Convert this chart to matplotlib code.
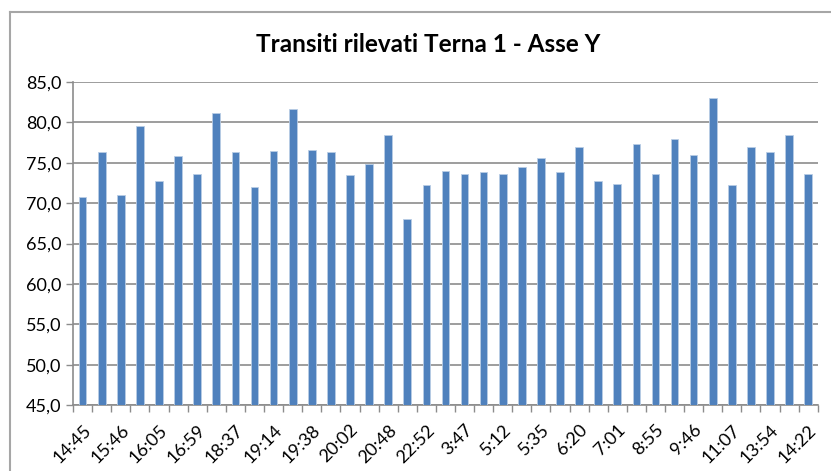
import matplotlib
matplotlib.use("Agg")
import matplotlib.pyplot as plt
from matplotlib.lines import Line2D
import numpy as np

# data
times = ["14:45", "", "15:46", "", "16:05", "", "16:59", "", "18:37", "",
         "19:14", "", "19:38", "", "20:02", "", "20:48", "", "22:52", "",
         "3:47", "", "5:12", "", "5:35", "", "6:20", "", "7:01", "",
         "8:55", "", "9:46", "", "11:07", "", "13:54", "", "14:22"]
transits = [70.8, 76.3, 71.0, 79.6, 72.7, 75.8, 73.6, 81.2, 76.3, 72.0,
            76.5, 81.7, 76.6, 76.3, 73.5, 74.9, 78.4, 68.0, 72.2, 74.0,
            73.6, 73.8, 73.6, 74.5, 75.6, 73.8, 77.0, 72.7, 72.4, 77.3,
            73.6, 77.9, 75.9, 83.0, 72.2, 77.0, 76.3, 78.4, 73.6]
y_ticks = [45, 50, 55, 60, 65, 70, 75, 80, 85]

plt.rcParams['font.family'] = ['Lato', 'DejaVu Sans']

fig = plt.figure(figsize=(8.31, 4.71), dpi=100)
ax = fig.add_axes([0.088, 0.140, 0.896, 0.686])

x = np.arange(len(transits))
ax.bar(x, transits, width=0.4, color="#4f81bd", edgecolor="#b9cde5",
       linewidth=0.6, zorder=3)

ax.set_ylim(45, 85)
ax.set_yticks(y_ticks)
ax.set_yticklabels([f"{v:.1f}".replace(".", ",") for v in y_ticks], fontsize=13)
ax.yaxis.grid(True, color="#8c8c8c", linewidth=1.2, zorder=0)
ax.tick_params(axis="y", length=5, color="#8c8c8c", width=1)

ax.set_xlim(-0.5, len(transits) - 0.5)
# tick marks between categories, labels under every other bar
ax.set_xticks(np.arange(len(transits) + 1) - 0.5)
ax.set_xticklabels([])
ax.set_xticks(x, minor=True)
ax.set_xticklabels(times, minor=True, rotation=45, ha="right",
                   rotation_mode="anchor", fontsize=13)
ax.tick_params(axis="x", which="major", length=5, color="#8c8c8c", width=1)
ax.tick_params(axis="x", which="minor", length=0, pad=12)

for s in ["top", "right"]:
    ax.spines[s].set_visible(False)
for s in ["left", "bottom"]:
    ax.spines[s].set_color("#8c8c8c")
    ax.spines[s].set_linewidth(1.2)

fig.text(0.515, 0.905, "Transiti rilevati Terna 1 - Asse Y", ha="center",
         va="center", fontsize=17.5, fontweight="bold")

# chart border
fig.add_artist(Line2D([0.012, 1.0], [0.975, 0.975], color="#a6a6a6", lw=1.5))
fig.add_artist(Line2D([0.012, 0.012], [0.0, 0.975], color="#a6a6a6", lw=1.5))

fig.savefig("out.png", dpi=100)
